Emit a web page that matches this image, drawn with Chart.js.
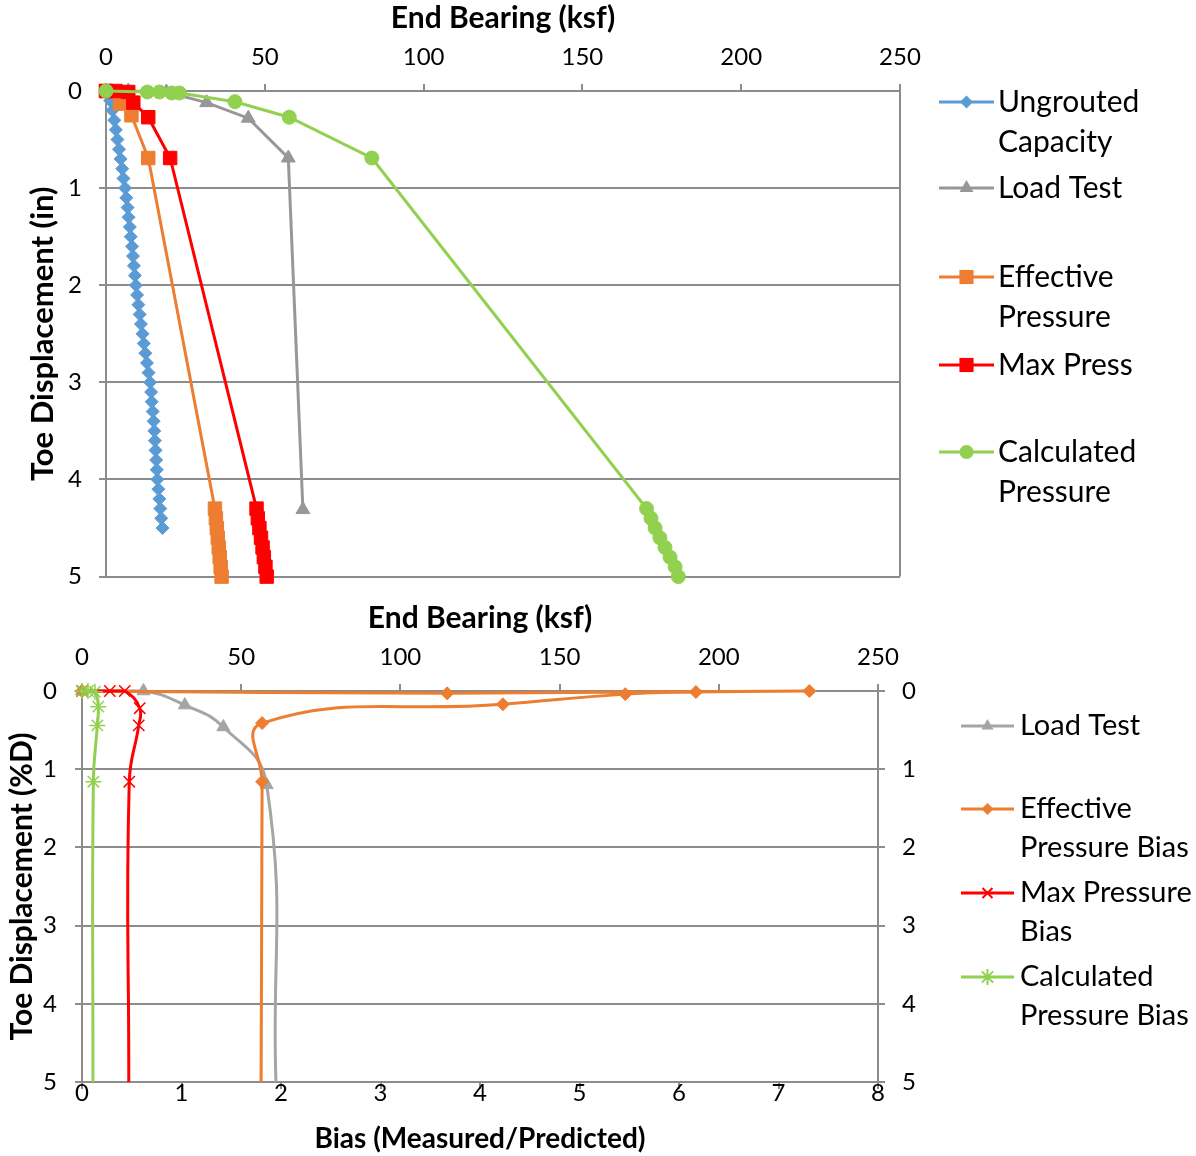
<!DOCTYPE html>
<html>
<head>
<meta charset="utf-8">
<script src="https://cdn.jsdelivr.net/npm/chart.js@4.4.1/dist/chart.umd.min.js"></script>
<style>
  body { margin: 0; background: #fff; }
  #wrap { position: relative; width: 1196px; height: 1156px; }
  canvas { display: block; }
  #bottom-chart { margin-top: -8px; }
</style>
</head>
<body>
<div id="wrap">
  <canvas id="top-chart" width="1196" height="608"></canvas>
  <canvas id="bottom-chart" width="1196" height="556"></canvas>
</div>
<script>
/* ---------- data: top chart (End Bearing ksf vs Toe Displacement in) ---------- */
const ungroutedDisp = [0, 0.1, 0.2, 0.3, 0.4, 0.5, 0.6, 0.7, 0.8, 0.9, 1.0, 1.1, 1.2, 1.3, 1.4, 1.5,
  1.6, 1.7, 1.8, 1.9, 2.0, 2.1, 2.2, 2.3, 2.4, 2.5, 2.6, 2.7, 2.8, 2.9, 3.0, 3.1, 3.2, 3.3, 3.4,
  3.5, 3.6, 3.7, 3.8, 3.9, 4.0, 4.1, 4.2, 4.3, 4.4, 4.5];
const ungroutedBearing = [0, 1.3, 2.0, 2.6, 3.1, 3.6, 4.1, 4.6, 5.1, 5.5, 6.0, 6.4, 6.8, 7.1, 7.5, 7.8,
  8.2, 8.5, 8.8, 9.1, 9.4, 9.8, 10.2, 10.6, 11.0, 11.5, 11.9, 12.4, 12.9, 13.4, 13.9, 14.2, 14.4,
  14.7, 15.0, 15.2, 15.4, 15.6, 15.8, 16.0, 16.2, 16.5, 16.8, 17.1, 17.4, 17.8];

const loadTestDisp = [0, 0.0, 0.01, 0.12, 0.28, 0.69, 4.31];
const loadTestBearing = [0, 7, 19, 31.7, 44.8, 57.4, 62.0];

const effDisp = [0, 0.13, 0.25, 0.69, 4.3, 4.4, 4.5, 4.6, 4.7, 4.8, 4.9, 5.0];
const effBearing = [0, 4.4, 8.0, 13.3, 34.3, 34.6, 34.9, 35.2, 35.5, 35.8, 36.1, 36.4];

const maxDisp = [0, 0.0, 0.01, 0.12, 0.27, 0.69, 4.3, 4.4, 4.5, 4.6, 4.7, 4.8, 4.9, 5.0];
const maxBearing = [0, 3, 7, 8.6, 13.3, 20.2, 47.4, 47.8, 48.3, 48.8, 49.3, 49.7, 50.2, 50.6];

const calcDisp = [0, 0.01, 0.01, 0.02, 0.02, 0.11, 0.27, 0.69, 4.3, 4.4, 4.5, 4.6, 4.7, 4.8, 4.9, 5.0];
const calcBearing = [0, 13.0, 16.8, 20.7, 23.1, 40.6, 57.7, 83.7, 170.2, 171.6, 172.9, 174.4, 176.0, 177.6, 179.2, 180.2];

/* ---------- data: bottom chart (Toe Displacement %D) ---------- */
const ltPctD = [0, 0.0, 0.18, 0.46, 1.2, 5.0];
const ltBearing = [0, 19.3, 32.3, 44.4, 58.0, 60.9];

const effBiasPctD = [0, 0.03, 0.0, 0.013, 0.04, 0.17, 0.41, 1.16, 5.0];
const effBias = [0, 3.67, 7.31, 6.17, 5.46, 4.23, 1.81, 1.81, 1.80];

const maxBiasPctD = [0, 0.0, 0.0, 0.22, 0.44, 1.16, 5.0];
const maxBias = [0, 0.28, 0.43, 0.58, 0.57, 0.475, 0.47];

const calcBiasPctD = [0, 0.0, 0.01, 0.2, 0.44, 1.16, 5.0];
const calcBias = [0, 0.06, 0.13, 0.164, 0.154, 0.114, 0.11];

const bearingTicks = [0, 50, 100, 150, 200, 250];
const biasTicks = [0, 1, 2, 3, 4, 5, 6, 7, 8];
const dispTicks = [0, 1, 2, 3, 4, 5];

/* ---------- styling ---------- */
const BLUE = '#5b9bd5';
const GRAY = '#979797';
const GRAY_LIGHT = '#a5a5a5';
const ORANGE = '#ed7d31';
const RED = '#ff0000';
const GREEN = '#92d050';
const GRID = '#8c8c8c';
const FONT = 'Lato';

Chart.defaults.font.family = FONT;
Chart.defaults.color = '#000';

const pts = (xs, ys) => xs.map((x, i) => ({ x: x, y: ys[i] }));

// hide the marker on the last point (line runs off the bottom of the plot)
const hideLast = r => ctx => ctx.dataIndex === ctx.dataset.data.length - 1 ? 0 : r;

function drawMarker(ctx, style, x, y, r, color) {
    ctx.save();
    ctx.fillStyle = color;
    ctx.strokeStyle = color;
    ctx.lineWidth = 2;
    ctx.beginPath();
    if (style === 'rectRot') {
        ctx.moveTo(x, y - r); ctx.lineTo(x + r, y); ctx.lineTo(x, y + r); ctx.lineTo(x - r, y);
        ctx.closePath(); ctx.fill();
    } else if (style === 'triangle') {
        const w = r * 0.866;
        ctx.moveTo(x, y - r); ctx.lineTo(x + w, y + r / 2); ctx.lineTo(x - w, y + r / 2);
        ctx.closePath(); ctx.fill();
    } else if (style === 'rect') {
        const s = r * Math.SQRT1_2;
        ctx.rect(x - s, y - s, 2 * s, 2 * s); ctx.fill();
    } else if (style === 'circle') {
        ctx.arc(x, y, r, 0, Math.PI * 2); ctx.fill();
    } else if (style === 'crossRot' || style === 'star') {
        const d = r * Math.SQRT1_2;
        ctx.moveTo(x - d, y - d); ctx.lineTo(x + d, y + d);
        ctx.moveTo(x - d, y + d); ctx.lineTo(x + d, y - d);
        if (style === 'star') { ctx.moveTo(x, y - r); ctx.lineTo(x, y + r); }
        ctx.stroke();
    }
    ctx.restore();
}

// legend drawn by hand so labels can wrap onto two lines like the original
const sideLegend = {
    id: 'sideLegend',
    afterDraw(chart, args, opts) {
        const ctx = chart.ctx;
        ctx.save();
        ctx.font = opts.fontSize + 'px ' + FONT;
        ctx.textBaseline = 'middle';
        ctx.fillStyle = '#000';
        opts.items.forEach((it, k) => {
            const ds = chart.data.datasets[it.ds];
            const y = opts.ys[k];
            ctx.strokeStyle = ds.borderColor;
            ctx.lineWidth = 3;
            ctx.beginPath();
            ctx.moveTo(opts.x1, y);
            ctx.lineTo(opts.x2, y);
            ctx.stroke();
            drawMarker(ctx, ds.pointStyle, (opts.x1 + opts.x2) / 2, y, it.r, ds.borderColor);
            ds.label.split('\n').forEach((line, j) => {
                ctx.fillText(line, opts.textX, y + j * opts.lineGap);
            });
        });
        ctx.restore();
    }
};

const plotFrame = {
    id: 'plotFrame',
    beforeDatasetsDraw(chart) {
        const a = chart.chartArea;
        const ctx = chart.ctx;
        ctx.save();
        ctx.strokeStyle = GRID;
        ctx.lineWidth = 2;
        ctx.beginPath();
        ctx.moveTo(a.right, a.top);
        ctx.lineTo(a.right, a.bottom);
        ctx.stroke();
        ctx.restore();
    }
};

const tickFont = { size: 24 };
const titleFont = size => ({ size: size, weight: 'bold' });

function linearAxis(extra) {
    return Object.assign({
        type: 'linear',
        grid: { drawOnChartArea: false, tickLength: 7, color: GRID, lineWidth: 2 },
        border: { color: GRID, width: 2 }
    }, extra);
}

/* ---------- top chart ---------- */
new Chart(document.getElementById('top-chart'), {
    type: 'scatter',
    data: {
        datasets: [
            { label: 'Ungrouted\nCapacity', data: pts(ungroutedBearing, ungroutedDisp), borderColor: BLUE, backgroundColor: BLUE,
              pointStyle: 'rectRot', pointRadius: 6.5, order: 4 },
            { label: 'Load Test', data: pts(loadTestBearing, loadTestDisp), borderColor: GRAY, backgroundColor: GRAY,
              pointStyle: 'triangle', pointRadius: 8, order: 3 },
            { label: 'Effective\nPressure', data: pts(effBearing, effDisp), borderColor: ORANGE, backgroundColor: ORANGE,
              pointStyle: 'rect', pointRadius: 9.5, order: 2 },
            { label: 'Max Press', data: pts(maxBearing, maxDisp), borderColor: RED, backgroundColor: RED,
              pointStyle: 'rect', pointRadius: 9.5, order: 1 },
            { label: 'Calculated\nPressure', data: pts(calcBearing, calcDisp), borderColor: GREEN, backgroundColor: GREEN,
              pointStyle: 'circle', pointRadius: 7, order: 0 }
        ].map(d => Object.assign({ showLine: true, borderWidth: 3, pointBorderWidth: 1, clip: false, tension: 0 }, d))
    },
    options: {
        responsive: false,
        animation: false,
        layout: { padding: { left: 0, top: 0, right: 296, bottom: 25 } },
        plugins: {
            legend: { display: false },
            tooltip: { enabled: false },
            sideLegend: {
                x1: 939, x2: 994, textX: 998, fontSize: 30, lineGap: 40,
                ys: [102, 188, 277, 365, 452],
                items: [{ ds: 0, r: 6.5 }, { ds: 1, r: 8 }, { ds: 2, r: 10 }, { ds: 3, r: 10 }, { ds: 4, r: 7 }]
            }
        },
        scales: {
            x: linearAxis({
                position: 'top', min: 0, max: 250,
                afterBuildTicks: s => { s.ticks = bearingTicks.map(v => ({ value: v })); },
                ticks: { padding: 12, font: tickFont },
                title: { display: true, text: 'End Bearing (ksf)', font: titleFont(30), padding: { top: 0, bottom: 0 } },
                afterFit: s => { s.height = 91; }
            }),
            y: linearAxis({
                reverse: true, min: 0, max: 5,
                afterBuildTicks: s => { s.ticks = dispTicks.map(v => ({ value: v })); },
                grid: { drawOnChartArea: true, tickLength: 7, color: GRID, lineWidth: 2 },
                ticks: { padding: 17, font: tickFont },
                title: { display: true, text: 'Toe Displacement (in)', font: titleFont(31), padding: { top: 24, bottom: 0 } },
                afterFit: s => { s.width = 106; }
            })
        }
    },
    plugins: [plotFrame, sideLegend]
});

/* ---------- bottom chart ---------- */
new Chart(document.getElementById('bottom-chart'), {
    type: 'scatter',
    data: {
        datasets: [
            { label: 'Load Test', data: pts(ltBearing, ltPctD), xAxisID: 'xBearing', borderColor: GRAY_LIGHT, backgroundColor: GRAY_LIGHT,
              pointStyle: 'triangle', pointRadius: hideLast(7.5), order: 3 },
            { label: 'Effective\nPressure Bias', data: pts(effBias, effBiasPctD), xAxisID: 'x', borderColor: ORANGE, backgroundColor: ORANGE,
              pointStyle: 'rectRot', pointRadius: hideLast(6.5), order: 2 },
            { label: 'Max Pressure\nBias', data: pts(maxBias, maxBiasPctD), xAxisID: 'x', borderColor: RED, backgroundColor: RED,
              pointStyle: 'crossRot', pointRadius: hideLast(8), pointBorderWidth: 1.5, order: 1 },
            { label: 'Calculated\nPressure Bias', data: pts(calcBias, calcBiasPctD), xAxisID: 'x', borderColor: GREEN, backgroundColor: GREEN,
              pointStyle: 'star', pointRadius: hideLast(8), pointBorderWidth: 1.5, order: 0 }
        ].map(d => Object.assign({ showLine: true, borderWidth: 3, pointBorderWidth: 1, clip: false, tension: 0.45, yAxisID: 'y' }, d))
    },
    options: {
        responsive: false,
        animation: false,
        layout: { padding: { left: 0, top: 0, right: 258, bottom: 0 } },
        plugins: {
            legend: { display: false },
            tooltip: { enabled: false },
            sideLegend: {
                x1: 961, x2: 1014, textX: 1020, fontSize: 29, lineGap: 39,
                ys: [126, 209, 293, 377],
                items: [{ ds: 0, r: 7 }, { ds: 1, r: 6 }, { ds: 2, r: 7 }, { ds: 3, r: 8 }]
            }
        },
        scales: {
            xBearing: linearAxis({
                position: 'top', min: 0, max: 250,
                afterBuildTicks: s => { s.ticks = bearingTicks.map(v => ({ value: v })); },
                ticks: { padding: 12, font: tickFont },
                title: { display: true, text: 'End Bearing (ksf)', font: titleFont(30), padding: { top: 0, bottom: 0 } },
                afterFit: s => { s.height = 91; }
            }),
            x: linearAxis({
                position: 'bottom', min: 0, max: 8,
                afterBuildTicks: s => { s.ticks = biasTicks.map(v => ({ value: v })); },
                ticks: { padding: -10, font: tickFont },
                title: { display: true, text: 'Bias (Measured/Predicted)', font: titleFont(28), padding: { top: 0, bottom: 0 } },
                afterFit: s => { s.height = 74; }
            }),
            y: linearAxis({
                position: 'left', reverse: true, min: 0, max: 5,
                afterBuildTicks: s => { s.ticks = dispTicks.map(v => ({ value: v })); },
                grid: { drawOnChartArea: true, tickLength: 7, color: GRID, lineWidth: 2 },
                ticks: { padding: 18, font: tickFont },
                title: { display: true, text: 'Toe Displacement (%D)', font: titleFont(30), padding: { top: 4, bottom: 0 } },
                afterFit: s => { s.width = 82; }
            }),
            yRight: linearAxis({
                position: 'right', reverse: true, min: 0, max: 5,
                afterBuildTicks: s => { s.ticks = dispTicks.map(v => ({ value: v })); },
                ticks: { padding: 17, font: tickFont },
                afterFit: s => { s.width = 60; }
            })
        }
    },
    plugins: [sideLegend]
});
</script>
</body>
</html>
